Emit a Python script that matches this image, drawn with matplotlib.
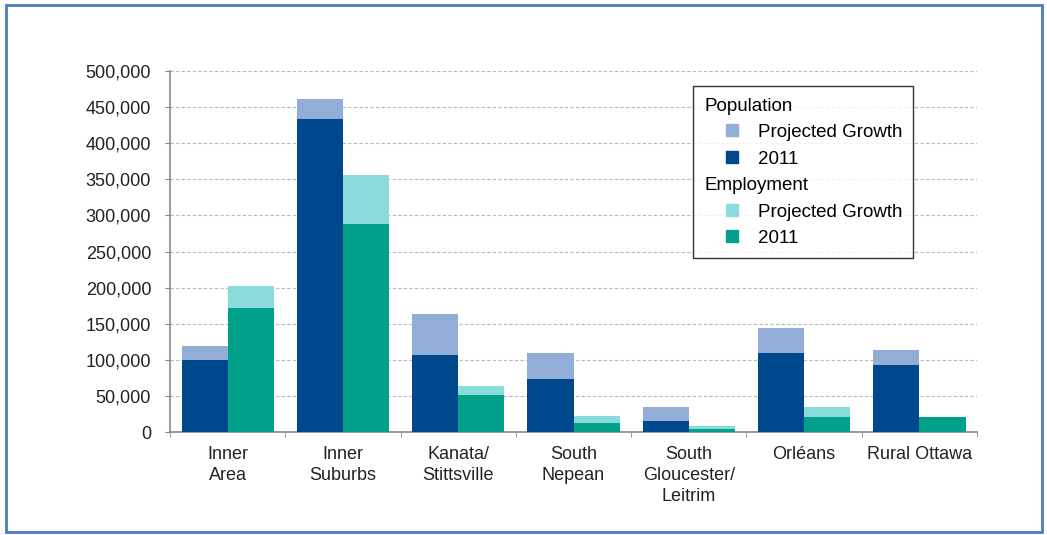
import matplotlib.pyplot as plt
from matplotlib.lines import Line2D
from matplotlib.patches import Rectangle
import numpy as np

plt.rcParams['font.family'] = ['Liberation Sans', 'DejaVu Sans']

# data
areas = ['Inner\nArea', 'Inner\nSuburbs', 'Kanata/\nStittsville', 'South\nNepean',
         'South\nGloucester/\nLeitrim', 'Orléans', 'Rural Ottawa']
pop_2011 = [100000, 433000, 107000, 73000, 15000, 110000, 93000]
pop_total = [119000, 461000, 163000, 109000, 35000, 144000, 113000]
emp_2011 = [172000, 288000, 51000, 12000, 4600, 21000, 21000]
emp_total = [202000, 356000, 64000, 22000, 8000, 34000, 21000]

pop_growth = [t - b for t, b in zip(pop_total, pop_2011)]
emp_growth = [t - b for t, b in zip(emp_total, emp_2011)]

c_pop = '#00488d'
c_pop_g = '#93aed6'
c_emp = '#00a08a'
c_emp_g = '#8adcdc'

fig = plt.figure(figsize=(10.47, 5.35), dpi=100)
ax = fig.add_axes([0.1624, 0.1925, 0.7708, 0.6748])

x = np.arange(len(areas))
w = 0.4
ax.bar(x - w / 2, pop_2011, w, color=c_pop, zorder=3)
ax.bar(x - w / 2, pop_growth, w, bottom=pop_2011, color=c_pop_g, zorder=3)
ax.bar(x + w / 2, emp_2011, w, color=c_emp, zorder=3)
ax.bar(x + w / 2, emp_growth, w, bottom=emp_2011, color=c_emp_g, zorder=3)

ax.set_xlim(-0.5, len(areas) - 0.5)
ax.set_ylim(0, 500000)
ax.set_yticks(np.arange(0, 500001, 50000))
ax.set_yticklabels([f'{v:,}' for v in range(0, 500001, 50000)])
ax.yaxis.grid(True, linestyle=(0, (3, 2)), color='#b8b8b8', linewidth=0.8, zorder=0)

ax.set_xticks(x)
ax.set_xticklabels(areas, fontsize=13, linespacing=1.3)
ax.tick_params(axis='x', which='major', length=0, pad=10)
ax.set_xticks(np.arange(-0.5, len(areas), 1), minor=True)
ax.tick_params(axis='x', which='minor', length=3.6, color='#888888')
ax.tick_params(axis='y', length=3.6, color='#888888', labelsize=13, pad=10,
               labelcolor='#222222')
ax.tick_params(axis='x', labelcolor='#222222')

for s in ['top', 'right']:
    ax.spines[s].set_visible(False)
for s in ['left', 'bottom']:
    ax.spines[s].set_color('#888888')
    ax.spines[s].set_linewidth(1.2)

def sq(c):
    return Line2D([], [], marker='s', linestyle='none', markersize=8,
                  markerfacecolor=c, markeredgecolor=c)

blank = Line2D([], [], linestyle='none')
handles = [blank, sq(c_pop_g), sq(c_pop), blank, sq(c_emp_g), sq(c_emp)]
labels = ['Population', 'Projected Growth', '2011',
          'Employment', 'Projected Growth', '2011']
leg = ax.legend(handles, labels, loc='upper left', bbox_to_anchor=(0.648, 0.958),
                fontsize=13.5, frameon=True, fancybox=False, edgecolor='black',
                handlelength=3.0, handletextpad=-0.15,
                labelspacing=0.5, borderpad=0.6, borderaxespad=0)
leg.get_frame().set_linewidth(1.0)
for i in (0, 3):
    leg.get_texts()[i].set_x(-53)

fig.patches.append(Rectangle((0.006, 0.006), 0.989, 0.985, transform=fig.transFigure,
                             fill=False, edgecolor='#4a7cc0', linewidth=2))

fig.savefig('out.png', dpi=100)
